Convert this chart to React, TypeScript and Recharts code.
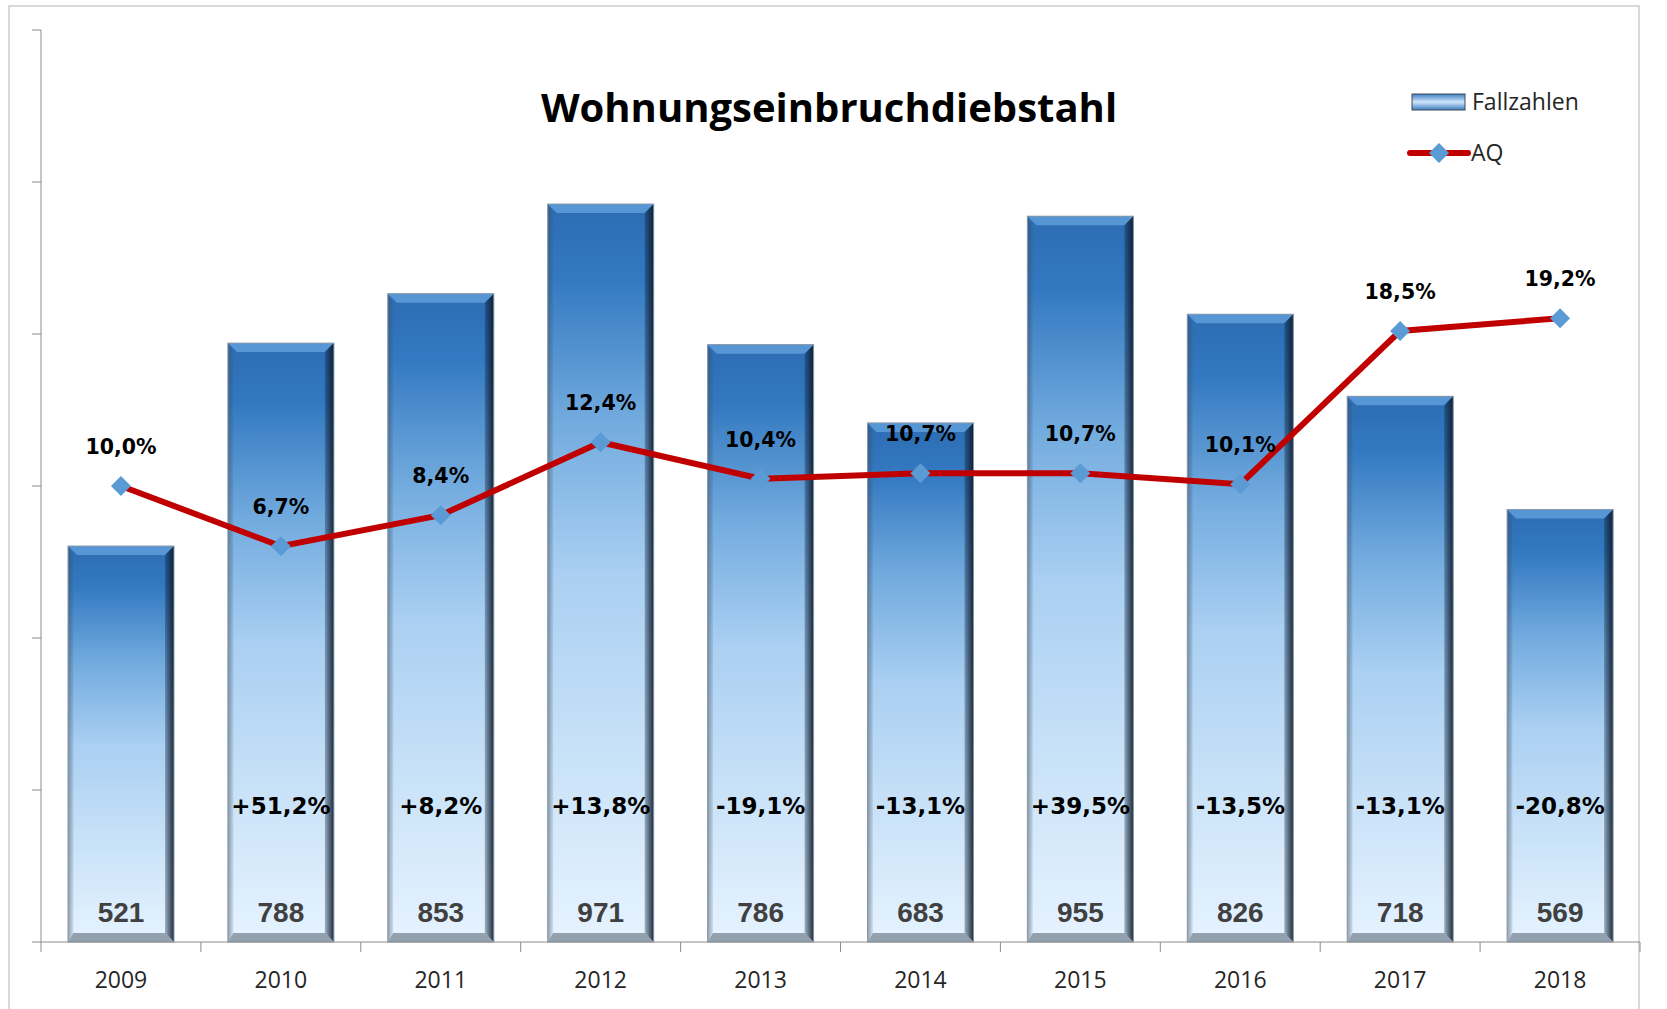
import React from 'react'
import { ComposedChart, Bar, Line, XAxis, YAxis, LabelList, Legend } from 'recharts'

const years = ['2009', '2010', '2011', '2012', '2013', '2014', '2015', '2016', '2017', '2018']
const fallzahlen = [521, 788, 853, 971, 786, 683, 955, 826, 718, 569]
const aq = [10.0, 6.7, 8.4, 12.4, 10.4, 10.7, 10.7, 10.1, 18.5, 19.2]
const veraenderung = ['', '+51,2%', '+8,2%', '+13,8%', '-19,1%', '-13,1%', '+39,5%', '-13,5%', '-13,1%', '-20,8%']
const leftTicks = [0, 200, 400, 600, 800, 1000, 1200]

const data = years.map((year, i) => ({
  year,
  fallzahlen: fallzahlen[i],
  aq: aq[i],
  change: veraenderung[i],
}))

const W = 1667
const H = 1009
const Y_AXIS_W = 12
const M = { top: 30, right: 27, bottom: 7, left: 41 - Y_AXIS_W }
const BAND = (W - 41 - M.right) / years.length
const AXIS_GREY = '#8c8c8c'
const LABEL_FONT = '"DejaVu Sans", Verdana, sans-serif'
const TEXT_FONT = '"Open Sans", "Noto Sans", sans-serif'

const fmtPct = (v: number) => v.toFixed(1).replace('.', ',') + '%'

function BevelBar(props: any) {
  const { x, y, width: w, height: h, index } = props
  if (!h || h <= 0) return null
  const b = 9
  const id = `bar-${index}`
  return (
    <g>
      <defs>
        <linearGradient id={`${id}-fill`} x1="0" y1="0" x2="0" y2="1">
          <stop offset="0" stopColor="#2c6cb2" />
          <stop offset="0.1" stopColor="#3379c1" />
          <stop offset="0.3" stopColor="#74acdf" />
          <stop offset="0.5" stopColor="#a9cff2" />
          <stop offset="0.75" stopColor="#c9e2f8" />
          <stop offset="1" stopColor="#e6f3ff" />
        </linearGradient>
        <linearGradient id={`${id}-right`} x1="0" y1="0" x2="1" y2="0">
          <stop offset="0" stopColor="#0b1a2c" stopOpacity="0.3" />
          <stop offset="1" stopColor="#0b1a2c" stopOpacity="0.92" />
        </linearGradient>
        <linearGradient id={`${id}-left`} x1="0" y1="0" x2="1" y2="0">
          <stop offset="0" stopColor="#3d4c5c" stopOpacity="0.5" />
          <stop offset="1" stopColor="#3d4c5c" stopOpacity="0.12" />
        </linearGradient>
      </defs>
      <rect x={x} y={y} width={w} height={h} fill={`url(#${id}-fill)`} />
      <polygon
        points={`${x},${y} ${x + w},${y} ${x + w - b},${y + b} ${x + b},${y + b}`}
        fill="#6aa8e4"
        opacity={0.7}
      />
      <polygon
        points={`${x},${y} ${x + b * 0.6},${y + b} ${x + b * 0.6},${y + h - b} ${x},${y + h}`}
        fill={`url(#${id}-left)`}
      />
      <polygon
        points={`${x + w},${y} ${x + w},${y + h} ${x + w - b},${y + h - b} ${x + w - b},${y + b}`}
        fill={`url(#${id}-right)`}
      />
      <polygon
        points={`${x},${y + h} ${x + w},${y + h} ${x + w - b},${y + h - b} ${x + b * 0.6},${y + h - b}`}
        fill="#5c6b7a"
        opacity={0.6}
      />
      <rect x={x} y={y} width={w} height={h} fill="none" stroke="#8797a8" strokeWidth={1} />
    </g>
  )
}

function Diamond(props: any) {
  const { cx, cy } = props
  if (cx == null || cy == null) return null
  const r = 10
  return (
    <polygon
      points={`${cx},${cy - r} ${cx + r},${cy} ${cx},${cy + r} ${cx - r},${cy}`}
      fill="#5b9bd5"
    />
  )
}

function YearTick(props: any) {
  const { x, y, payload, index } = props
  const left = x - BAND / 2
  const right = x + BAND / 2
  return (
    <g>
      <line x1={left} y1={y} x2={left} y2={y + 10} stroke={AXIS_GREY} />
      {index === years.length - 1 && <line x1={right} y1={y} x2={right} y2={y + 10} stroke={AXIS_GREY} />}
      <text x={x} y={y + 46} textAnchor="middle" fontFamily={TEXT_FONT} fontSize={23} fill="#262626">
        {payload.value}
      </text>
    </g>
  )
}

function ValueLabel(props: any) {
  const { x, y, width, height, value } = props
  return (
    <text
      x={x + width / 2}
      y={y + height - 20}
      textAnchor="middle"
      fontFamily='"Liberation Sans", Arial, sans-serif'
      fontWeight="bold"
      fontSize={28}
      fill="#404040"
    >
      {value}
    </text>
  )
}

function ChangeLabel(props: any) {
  const { x, y, width, height, value } = props
  if (!value) return null
  return (
    <text
      x={x + width / 2}
      y={y + height - 128}
      textAnchor="middle"
      fontFamily={LABEL_FONT}
      fontWeight="bold"
      fontSize={23}
      fill="#000"
    >
      {value}
    </text>
  )
}

function AqLabel(props: any) {
  const { x, y, value } = props
  return (
    <text x={x} y={y - 32} textAnchor="middle" fontFamily={LABEL_FONT} fontWeight="bold" fontSize={20.5} fill="#000">
      {fmtPct(value)}
    </text>
  )
}

function LegendBox() {
  return (
    <svg width={230} height={90} style={{ overflow: 'visible' }}>
      <defs>
        <linearGradient id="legend-bar" x1="0" y1="0" x2="0" y2="1">
          <stop offset="0" stopColor="#3d7dc0" />
          <stop offset="0.5" stopColor="#cfe6fb" />
          <stop offset="1" stopColor="#3d7dc0" />
        </linearGradient>
      </defs>
      <rect x={6} y={12} width={53} height={16} fill="url(#legend-bar)" stroke="#3c4a58" strokeWidth={1} />
      <text x={66} y={28} fontFamily={TEXT_FONT} fontSize={23} fill="#262626">
        Fallzahlen
      </text>
      <line x1={4} y1={71} x2={62} y2={71} stroke="#c00000" strokeWidth={6} strokeLinecap="round" />
      <polygon points="33,61 43,71 33,81 23,71" fill="#5b9bd5" />
      <text x={65} y={79} fontFamily={TEXT_FONT} fontSize={23} fill="#262626">
        AQ
      </text>
    </svg>
  )
}

export default function App() {
  return (
    <div style={{ position: 'absolute', left: 0, top: 0, width: W, height: H, background: '#fff', overflow: 'hidden' }}>
      <div
        style={{
          position: 'absolute',
          left: 8,
          top: 5,
          width: 1632,
          height: 1010,
          border: '2px solid #d9d9d9',
          boxSizing: 'border-box',
        }}
      />
      <ComposedChart width={W} height={H} data={data} margin={M} style={{ position: 'absolute', left: 0, top: 0 }}>
        <XAxis
          dataKey="year"
          height={60}
          interval={0}
          tickLine={false}
          tickSize={0}
          tickMargin={0}
          axisLine={{ stroke: AXIS_GREY }}
          tick={<YearTick />}
        />
        <YAxis
          yAxisId="left"
          width={Y_AXIS_W}
          domain={[0, 1200]}
          ticks={leftTicks}
          tickSize={9}
          tickFormatter={() => ''}
          axisLine={{ stroke: AXIS_GREY }}
          tickLine={{ stroke: AXIS_GREY }}
        />
        <YAxis yAxisId="right" orientation="right" hide domain={[-15, 35]} />
        <Legend
          layout="horizontal"
          verticalAlign="middle"
          align="center"
          wrapperStyle={{ left: 1406, top: 82, width: 230 }}
          content={() => <LegendBox />}
        />
        <Bar
          yAxisId="left"
          dataKey="fallzahlen"
          name="Fallzahlen"
          barSize={106}
          shape={<BevelBar />}
          isAnimationActive={false}
        >
          <LabelList dataKey="fallzahlen" content={<ValueLabel />} />
          <LabelList dataKey="change" content={<ChangeLabel />} />
        </Bar>
        <Line
          yAxisId="right"
          dataKey="aq"
          name="AQ"
          stroke="#c00000"
          strokeWidth={6}
          dot={<Diamond />}
          activeDot={false}
          isAnimationActive={false}
        >
          <LabelList dataKey="aq" content={<AqLabel />} />
        </Line>
      </ComposedChart>
      <div
        style={{
          position: 'absolute',
          left: 0,
          width: 1658,
          top: 80,
          textAlign: 'center',
          fontFamily: TEXT_FONT,
          fontWeight: 700,
          fontSize: 40,
          lineHeight: '54px',
          color: '#000',
          pointerEvents: 'none',
        }}
      >
        Wohnungseinbruchdiebstahl
      </div>
    </div>
  )
}
